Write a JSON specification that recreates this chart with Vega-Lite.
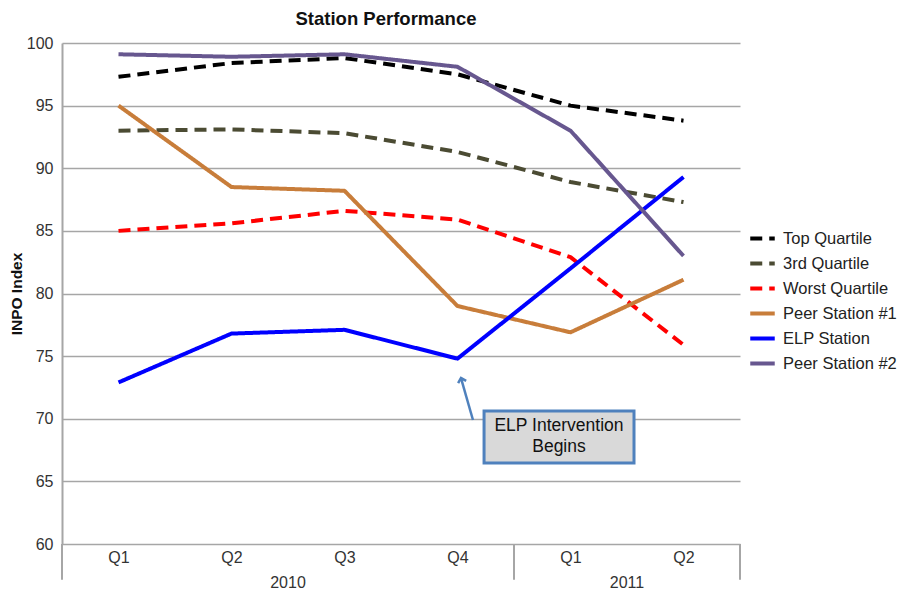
{
  "$schema": "https://vega.github.io/schema/vega-lite/v6.json",
  "width": 678,
  "height": 501,
  "autosize": "none",
  "padding": {"left": 62, "top": 43, "right": 164, "bottom": 48},
  "background": "white",
  "config": {"font": "Liberation Sans", "view": {"stroke": null}},
  "title": {"text": "Station Performance", "fontSize": 18.5, "fontWeight": "bold", "color": "#111111", "anchor": "middle", "dx": -15, "offset": 7},
  "datasets": {
    "series": [
      {"period": "2010 Q1", "series": "Top Quartile", "value": 97.3},
      {"period": "2010 Q2", "series": "Top Quartile", "value": 98.4},
      {"period": "2010 Q3", "series": "Top Quartile", "value": 98.8},
      {"period": "2010 Q4", "series": "Top Quartile", "value": 97.5},
      {"period": "2011 Q1", "series": "Top Quartile", "value": 95.0},
      {"period": "2011 Q2", "series": "Top Quartile", "value": 93.8},
      {"period": "2010 Q1", "series": "3rd Quartile", "value": 93.0},
      {"period": "2010 Q2", "series": "3rd Quartile", "value": 93.1},
      {"period": "2010 Q3", "series": "3rd Quartile", "value": 92.8},
      {"period": "2010 Q4", "series": "3rd Quartile", "value": 91.3},
      {"period": "2011 Q1", "series": "3rd Quartile", "value": 88.9},
      {"period": "2011 Q2", "series": "3rd Quartile", "value": 87.3},
      {"period": "2010 Q1", "series": "Worst Quartile", "value": 85.0},
      {"period": "2010 Q2", "series": "Worst Quartile", "value": 85.6},
      {"period": "2010 Q3", "series": "Worst Quartile", "value": 86.6},
      {"period": "2010 Q4", "series": "Worst Quartile", "value": 85.9},
      {"period": "2011 Q1", "series": "Worst Quartile", "value": 82.9},
      {"period": "2011 Q2", "series": "Worst Quartile", "value": 75.9},
      {"period": "2010 Q1", "series": "Peer Station #1", "value": 95.0},
      {"period": "2010 Q2", "series": "Peer Station #1", "value": 88.5},
      {"period": "2010 Q3", "series": "Peer Station #1", "value": 88.2},
      {"period": "2010 Q4", "series": "Peer Station #1", "value": 79.0},
      {"period": "2011 Q1", "series": "Peer Station #1", "value": 76.9},
      {"period": "2011 Q2", "series": "Peer Station #1", "value": 81.1},
      {"period": "2010 Q1", "series": "ELP Station", "value": 72.9},
      {"period": "2010 Q2", "series": "ELP Station", "value": 76.8},
      {"period": "2010 Q3", "series": "ELP Station", "value": 77.1},
      {"period": "2010 Q4", "series": "ELP Station", "value": 74.8},
      {"period": "2011 Q1", "series": "ELP Station", "value": 82.0},
      {"period": "2011 Q2", "series": "ELP Station", "value": 89.3},
      {"period": "2010 Q1", "series": "Peer Station #2", "value": 99.1},
      {"period": "2010 Q2", "series": "Peer Station #2", "value": 98.9},
      {"period": "2010 Q3", "series": "Peer Station #2", "value": 99.1},
      {"period": "2010 Q4", "series": "Peer Station #2", "value": 98.1},
      {"period": "2011 Q1", "series": "Peer Station #2", "value": 93.0},
      {"period": "2011 Q2", "series": "Peer Station #2", "value": 83.0}
    ],
    "years": [{"pos": 2, "year": "2010"}, {"pos": 5, "year": "2011"}],
    "seps": [{"pos": 0}, {"pos": 4}, {"pos": 6}],
    "box": [{"x1": 3.735, "x2": 5.062, "y1": 66.47, "y2": 70.62, "xc": 4.398, "yc": 69.4, "label": "ELP Intervention\nBegins"}],
    "arrow": [{"x": 3.637, "y": 69.9, "o": 0}, {"x": 3.531, "y": 73.25, "o": 1}],
    "tip": [{"x": 3.531, "y": 73.25}]
  },
  "resolve": {"scale": {"x": "independent"}},
  "layer": [
    {
      "data": {"name": "series"},
      "mark": {"type": "line", "strokeJoin": "round"},
      "encoding": {
        "x": {
          "field": "period", "type": "ordinal",
          "scale": {"type": "point", "padding": 0.5},
          "axis": {"title": null, "labelExpr": "split(datum.label, ' ')[1]", "labelFontSize": 16, "labelColor": "#333333", "ticks": false, "domain": false, "grid": false, "labelPadding": 5, "labelAngle": 0}
        },
        "y": {
          "field": "value", "type": "quantitative",
          "scale": {"domain": [60, 100], "nice": false, "zero": false},
          "axis": {"title": "INPO Index", "titleFontSize": 15.5, "titleFontWeight": "bold", "titleColor": "#111111", "titlePadding": 2, "labelFontSize": 16, "labelColor": "#333333", "labelPadding": 9, "ticks": false, "domainColor": "#a6a6a6", "domainWidth": 2, "gridColor": "#a6a6a6", "gridWidth": 1.5, "values": [60, 65, 70, 75, 80, 85, 90, 95, 100]}
        },
        "color": {
          "field": "series", "type": "nominal",
          "scale": {"domain": ["Top Quartile", "3rd Quartile", "Worst Quartile", "Peer Station #1", "ELP Station", "Peer Station #2"],
                    "range": ["#000000", "#4b4b33", "#ff0000", "#c87d3a", "#0000ff", "#67578f"]},
          "legend": {"title": null, "orient": "none", "legendX": 686, "legendY": 181, "labelFontSize": 16.5, "labelColor": "#222222", "symbolType": "stroke", "symbolSize": 600, "rowPadding": 2, "labelOffset": 6}
        },
        "strokeDash": {
          "field": "series", "type": "nominal",
          "scale": {"domain": ["Top Quartile", "3rd Quartile", "Worst Quartile", "Peer Station #1", "ELP Station", "Peer Station #2"],
                    "range": [[12, 7], [12, 7], [12, 7], [1, 0], [1, 0], [1, 0]]},
          "legend": {"title": null}
        },
        "strokeWidth": {
          "field": "series", "type": "nominal",
          "scale": {"domain": ["Top Quartile", "3rd Quartile", "Worst Quartile", "Peer Station #1", "ELP Station", "Peer Station #2"],
                    "range": [4, 4, 4, 3, 6, 3.5]},
          "legend": {"title": null}
        }
      }
    },
    {
      "data": {"name": "seps"},
      "mark": {"type": "rule", "color": "#a6a6a6", "strokeWidth": 2},
      "encoding": {
        "x": {"field": "pos", "type": "quantitative", "scale": {"domain": [0, 6], "nice": false, "zero": false}, "axis": null},
        "y": {"datum": 60, "type": "quantitative"},
        "y2": {"datum": 57.15}
      }
    },
    {
      "data": {"name": "years"},
      "mark": {"type": "text", "fontSize": 16, "color": "#333333", "baseline": "alphabetic"},
      "encoding": {
        "x": {"field": "pos", "type": "quantitative", "scale": {"domain": [0, 6], "nice": false, "zero": false}, "axis": null},
        "y": {"datum": 56.45, "type": "quantitative"},
        "text": {"field": "year"}
      }
    },
    {
      "data": {"name": "box"},
      "mark": {"type": "rect", "fill": "#d9d9d9", "stroke": "#4f81bd", "strokeWidth": 3},
      "encoding": {
        "x": {"field": "x1", "type": "quantitative", "scale": {"domain": [0, 6], "nice": false, "zero": false}, "axis": null},
        "x2": {"field": "x2"},
        "y": {"field": "y1", "type": "quantitative"},
        "y2": {"field": "y2"}
      }
    },
    {
      "data": {"name": "box"},
      "mark": {"type": "text", "fontSize": 17.5, "color": "#111111", "lineBreak": "\n", "lineHeight": 21, "baseline": "middle", "align": "center"},
      "encoding": {
        "x": {"field": "xc", "type": "quantitative", "scale": {"domain": [0, 6], "nice": false, "zero": false}, "axis": null},
        "y": {"field": "yc", "type": "quantitative"},
        "text": {"field": "label"}
      }
    },
    {
      "data": {"name": "arrow"},
      "mark": {"type": "line", "color": "#4f81bd", "strokeWidth": 2.5},
      "encoding": {
        "x": {"field": "x", "type": "quantitative", "scale": {"domain": [0, 6], "nice": false, "zero": false}, "axis": null},
        "y": {"field": "y", "type": "quantitative"},
        "order": {"field": "o"}
      }
    },
    {
      "data": {"name": "tip"},
      "mark": {"type": "point", "shape": "M-1,1L0,0L1,1", "filled": false, "stroke": "#4f81bd", "strokeWidth": 2.5, "size": 70, "angle": -16, "opacity": 1},
      "encoding": {
        "x": {"field": "x", "type": "quantitative", "scale": {"domain": [0, 6], "nice": false, "zero": false}, "axis": null},
        "y": {"field": "y", "type": "quantitative"}
      }
    }
  ]
}
